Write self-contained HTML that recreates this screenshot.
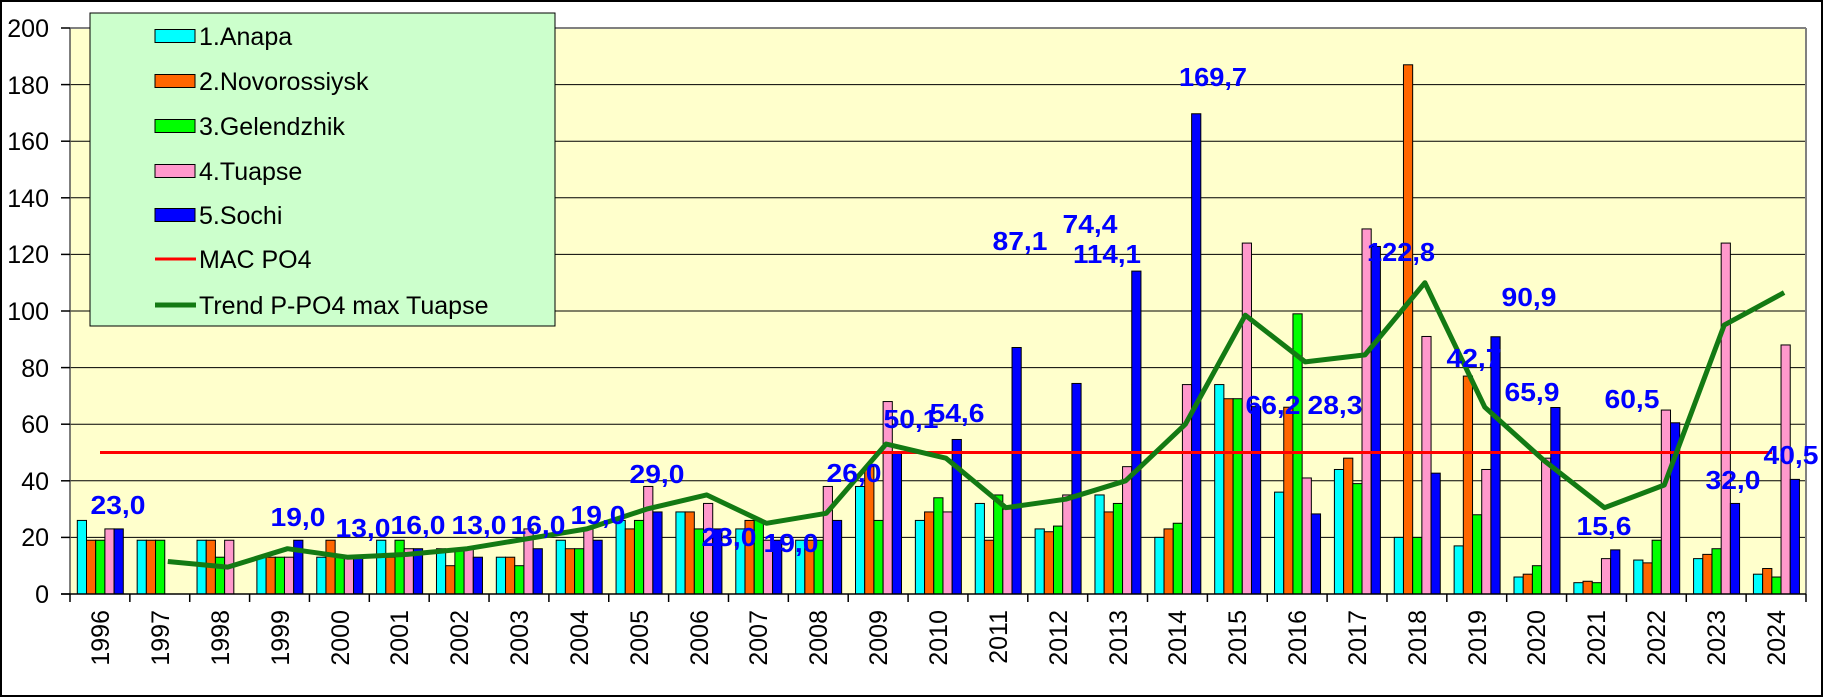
<!DOCTYPE html>
<html><head><meta charset="utf-8"><style>
html,body{margin:0;padding:0;background:#fff;}
svg{display:block;font-family:"Liberation Sans",Arial,sans-serif;}
</style></head><body>
<svg id="s" width="1824" height="697" viewBox="0 0 1824 697" xmlns="http://www.w3.org/2000/svg">
<rect x="1" y="1" width="1821" height="695" fill="#fff" stroke="#000" stroke-width="2"/>
<rect x="70" y="28" width="1736" height="566" fill="#FFFFCC"/>
<g stroke="#000" stroke-width="1">
<line x1="70" y1="537.4" x2="1806" y2="537.4"/><line x1="70" y1="480.8" x2="1806" y2="480.8"/>
<line x1="70" y1="424.2" x2="1806" y2="424.2"/><line x1="70" y1="367.6" x2="1806" y2="367.6"/>
<line x1="70" y1="311" x2="1806" y2="311"/><line x1="70" y1="254.4" x2="1806" y2="254.4"/>
<line x1="70" y1="197.8" x2="1806" y2="197.8"/><line x1="70" y1="141.2" x2="1806" y2="141.2"/>
<line x1="70" y1="84.6" x2="1806" y2="84.6"/>
</g>
<line x1="70" y1="28" x2="1806" y2="28" stroke="#808080" stroke-width="2"/>
<line x1="1806" y1="28" x2="1806" y2="594" stroke="#808080" stroke-width="2"/>
<g id="bars"></g>
<line x1="100" y1="452.5" x2="1772" y2="452.5" stroke="#FF0000" stroke-width="3"/>
<polyline id="trend" fill="none" stroke="#137A13" stroke-width="5" stroke-linejoin="round"/>
<line x1="70" y1="28" x2="70" y2="594" stroke="#555" stroke-width="1.5"/>
<line x1="61" y1="594" x2="1806" y2="594" stroke="#000" stroke-width="1.5"/>
<g id="ticks" stroke="#000" stroke-width="1.5"></g>
<g font-size="25" fill="#000" text-anchor="end">
<text x="49" y="603">0</text><text x="49" y="546">20</text><text x="49" y="490">40</text>
<text x="49" y="433">60</text><text x="49" y="377">80</text><text x="49" y="320">100</text>
<text x="49" y="263">120</text><text x="49" y="207">140</text><text x="49" y="150">160</text>
<text x="49" y="94">180</text><text x="49" y="37">200</text>
</g>
<g font-size="25" fill="#000" text-anchor="end">
<text transform="translate(109,610) rotate(-90)">1996</text>
<text transform="translate(169,610) rotate(-90)">1997</text>
<text transform="translate(229,610) rotate(-90)">1998</text>
<text transform="translate(289,610) rotate(-90)">1999</text>
<text transform="translate(349,610) rotate(-90)">2000</text>
<text transform="translate(408,610) rotate(-90)">2001</text>
<text transform="translate(468,610) rotate(-90)">2002</text>
<text transform="translate(528,610) rotate(-90)">2003</text>
<text transform="translate(588,610) rotate(-90)">2004</text>
<text transform="translate(648,610) rotate(-90)">2005</text>
<text transform="translate(708,610) rotate(-90)">2006</text>
<text transform="translate(767,610) rotate(-90)">2007</text>
<text transform="translate(827,610) rotate(-90)">2008</text>
<text transform="translate(887,610) rotate(-90)">2009</text>
<text transform="translate(947,610) rotate(-90)">2010</text>
<text transform="translate(1007,610) rotate(-90)">2011</text>
<text transform="translate(1067,610) rotate(-90)">2012</text>
<text transform="translate(1127,610) rotate(-90)">2013</text>
<text transform="translate(1186,610) rotate(-90)">2014</text>
<text transform="translate(1246,610) rotate(-90)">2015</text>
<text transform="translate(1306,610) rotate(-90)">2016</text>
<text transform="translate(1366,610) rotate(-90)">2017</text>
<text transform="translate(1426,610) rotate(-90)">2018</text>
<text transform="translate(1486,610) rotate(-90)">2019</text>
<text transform="translate(1545,610) rotate(-90)">2020</text>
<text transform="translate(1605,610) rotate(-90)">2021</text>
<text transform="translate(1665,610) rotate(-90)">2022</text>
<text transform="translate(1725,610) rotate(-90)">2023</text>
<text transform="translate(1785,610) rotate(-90)">2024</text>
</g>
<g font-size="26" font-weight="bold" fill="#0000FF" text-anchor="middle">
<text x="118" y="514" textLength="55" lengthAdjust="spacingAndGlyphs">23,0</text>
<text x="298" y="526" textLength="55" lengthAdjust="spacingAndGlyphs">19,0</text>
<text x="363" y="537" textLength="55" lengthAdjust="spacingAndGlyphs">13,0</text>
<text x="418" y="534" textLength="55" lengthAdjust="spacingAndGlyphs">16,0</text>
<text x="479" y="534" textLength="55" lengthAdjust="spacingAndGlyphs">13,0</text>
<text x="538" y="534" textLength="55" lengthAdjust="spacingAndGlyphs">16,0</text>
<text x="598" y="524" textLength="55" lengthAdjust="spacingAndGlyphs">19,0</text>
<text x="657" y="483" textLength="55" lengthAdjust="spacingAndGlyphs">29,0</text>
<text x="729" y="546" textLength="55" lengthAdjust="spacingAndGlyphs">23,0</text>
<text x="791" y="552" textLength="55" lengthAdjust="spacingAndGlyphs">19,0</text>
<text x="854" y="482" textLength="55" lengthAdjust="spacingAndGlyphs">26,0</text>
<text x="911" y="428" textLength="55" lengthAdjust="spacingAndGlyphs">50,1</text>
<text x="957" y="422" textLength="55" lengthAdjust="spacingAndGlyphs">54,6</text>
<text x="1020" y="250" textLength="55" lengthAdjust="spacingAndGlyphs">87,1</text>
<text x="1090" y="233" textLength="55" lengthAdjust="spacingAndGlyphs">74,4</text>
<text x="1107" y="263" textLength="68" lengthAdjust="spacingAndGlyphs">114,1</text>
<text x="1213" y="86" textLength="68" lengthAdjust="spacingAndGlyphs">169,7</text>
<text x="1273" y="414" textLength="55" lengthAdjust="spacingAndGlyphs">66,2</text>
<text x="1335" y="414" textLength="55" lengthAdjust="spacingAndGlyphs">28,3</text>
<text x="1401" y="261" textLength="68" lengthAdjust="spacingAndGlyphs">122,8</text>
<text x="1474" y="367" textLength="55" lengthAdjust="spacingAndGlyphs">42,7</text>
<text x="1529" y="306" textLength="55" lengthAdjust="spacingAndGlyphs">90,9</text>
<text x="1532" y="401" textLength="55" lengthAdjust="spacingAndGlyphs">65,9</text>
<text x="1604" y="535" textLength="55" lengthAdjust="spacingAndGlyphs">15,6</text>
<text x="1632" y="408" textLength="55" lengthAdjust="spacingAndGlyphs">60,5</text>
<text x="1733" y="489" textLength="55" lengthAdjust="spacingAndGlyphs">32,0</text>
<text x="1791" y="464" textLength="55" lengthAdjust="spacingAndGlyphs">40,5</text>
</g>
<rect x="90" y="13" width="465" height="313" fill="#CCFFCC" stroke="#000" stroke-width="1"/>
<g stroke="#000" stroke-width="1">
<rect x="155" y="29.5" width="40" height="13" fill="#00FFFF"/>
<rect x="155" y="74.5" width="40" height="13" fill="#FF6600"/>
<rect x="155" y="119.5" width="40" height="13" fill="#00FF00"/>
<rect x="155" y="164.5" width="40" height="13" fill="#FF99CC"/>
<rect x="155" y="208.5" width="40" height="13" fill="#0000FF"/>
</g>
<line x1="155" y1="259" x2="196" y2="259" stroke="#FF0000" stroke-width="3"/>
<line x1="155" y1="305" x2="196" y2="305" stroke="#137A13" stroke-width="5"/>
<g font-size="25" fill="#000">
<text x="199" y="45">1.Anapa</text>
<text x="199" y="90">2.Novorossiysk</text>
<text x="199" y="135">3.Gelendzhik</text>
<text x="199" y="180">4.Tuapse</text>
<text x="199" y="224">5.Sochi</text>
<text x="199" y="268">MAC PO4</text>
<text x="199" y="314">Trend P-PO4 max Tuapse</text>
</g>
</svg>
<script>
(function(){
var d=[[26,19,19,23,23],[19,19,19,0,0],[19,19,13,19,0],[13,13,13,13,19],[13,19,13,13,13],
[19,13,19,16,16],[16,10,16,16,13],[13,13,10,23,16],[19,16,16,23,19],[26,23,26,38,29],
[29,29,23,32,23],[23,26,26,19,19],[19,19,19,38,26],[38,45,26,68,50.1],[26,29,34,29,54.6],
[32,19,35,30,87.1],[23,22,24,35,74.4],[35,29,32,45,114.1],[20,23,25,74,169.7],[74,69,69,124,66.2],
[36,66,99,41,28.3],[44,48,39,129,122.8],[20,187,20,91,42.7],[17,77,28,44,90.9],[6,7,10,48,65.9],
[4,4.5,4,12.5,15.6],[12,11,19,65,60.5],[12.5,14,16,124,32],[7,9,6,88,40.5]];
var c=["#00FFFF","#FF6600","#00FF00","#FF99CC","#0000FF"];
var ns="http://www.w3.org/2000/svg",g=document.getElementById("bars"),t=document.getElementById("ticks");
var W=59.862,s=2.83;
for(var i=0;i<29;i++){var cs=70+W*i;
for(var j=0;j<5;j++){var v=d[i][j];if(!v)continue;var r=document.createElementNS(ns,"rect");
r.setAttribute("x",cs+7.3+9.2*j);r.setAttribute("width",9.2);r.setAttribute("y",594-v*s);r.setAttribute("height",v*s);
r.setAttribute("fill",c[j]);r.setAttribute("stroke","#000");r.setAttribute("stroke-width","1");g.appendChild(r);}}
for(var i=0;i<=29;i++){var l=document.createElementNS(ns,"line");var x=70+W*i;
l.setAttribute("x1",x);l.setAttribute("x2",x);l.setAttribute("y1",594);l.setAttribute("y2",602);t.appendChild(l);}
for(var k=0;k<=10;k++){var l=document.createElementNS(ns,"line");var y=594-56.6*k;
l.setAttribute("x1",61);l.setAttribute("x2",70);l.setAttribute("y1",y);l.setAttribute("y2",y);t.appendChild(l);}
var tr=[11.5,9.5,16,13,14,16,19.5,23,30,35,25,28.5,53,48,30.5,33.5,40,60,98.5,82,84.5,110,66,47,30.5,38.5,95,106.5];
var p=[];for(var i=0;i<tr.length;i++){p.push((70+W*(i+1.5)+8).toFixed(1)+","+(594-tr[i]*s).toFixed(1));}
document.getElementById("trend").setAttribute("points",p.join(" "));
})();
</script>
</body></html>
